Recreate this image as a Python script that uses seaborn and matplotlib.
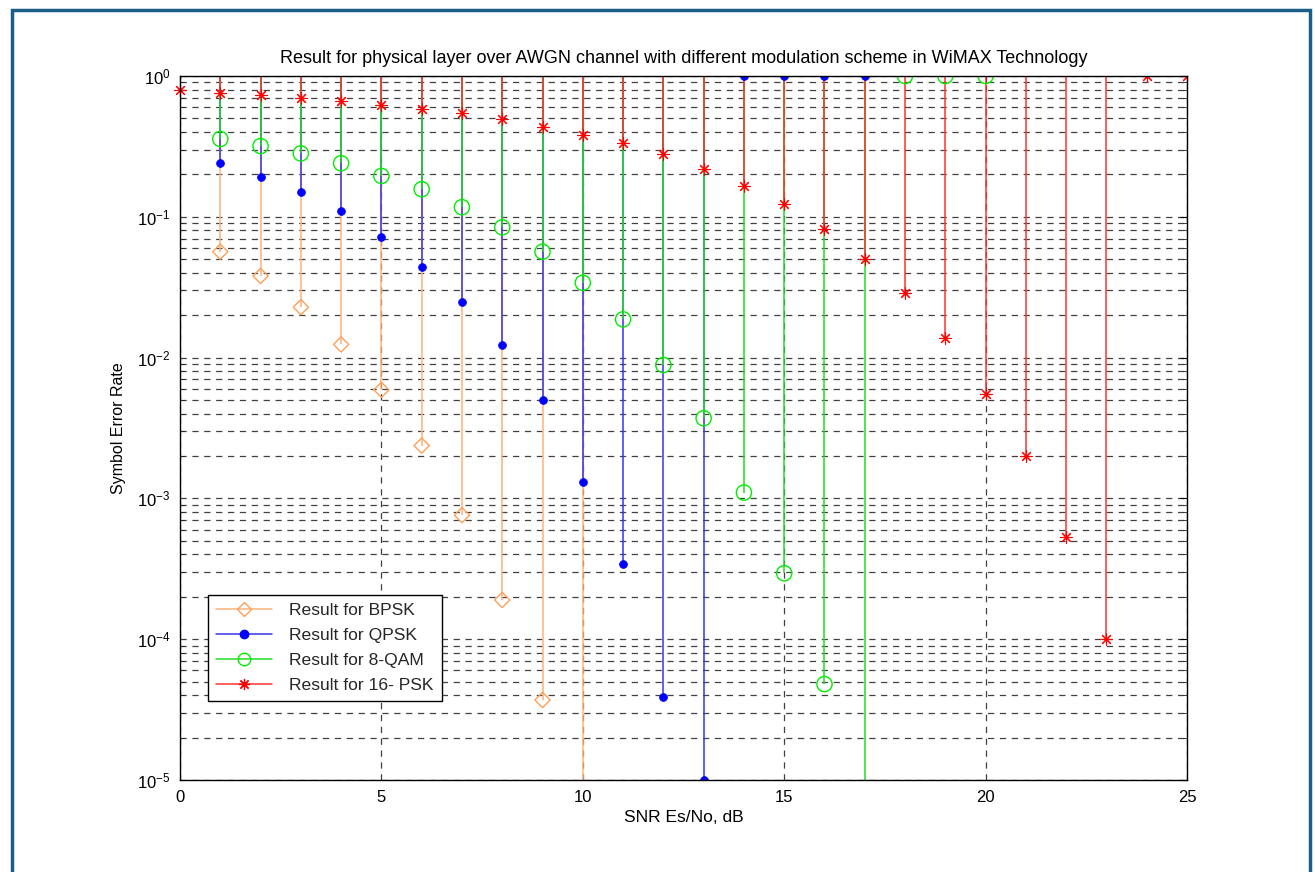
import numpy as np
import pandas as pd
import matplotlib
matplotlib.use("Agg")
import matplotlib.pyplot as plt
from matplotlib.lines import Line2D
from matplotlib.patches import Rectangle
from matplotlib.ticker import LogLocator, FixedLocator, NullFormatter
import seaborn as sns

# ---------------- data ----------------
snr_bpsk = list(range(0, 11))
ser_bpsk = [0.079, 0.0565, 0.038, 0.0228, 0.0124, 0.0059, 0.00237, 7.6e-4, 1.9e-4, 3.7e-5, 0.0]

snr_qpsk = list(range(0, 18))
ser_qpsk = [0.30, 0.242, 0.193, 0.149, 0.11, 0.072, 0.0442, 0.0247, 0.0123, 0.00497,
            0.00131, 3.42e-4, 3.9e-5, 1.0e-5, 1.0, 1.0, 1.0, 1.0]

snr_8qam = list(range(0, 21))
ser_8qam = [0.40, 0.357, 0.318, 0.282, 0.24, 0.195, 0.157, 0.117, 0.0842, 0.0565,
            0.034, 0.0187, 0.00886, 0.00371, 0.0011, 2.94e-4, 4.8e-5, 0.0, 1.0, 1.0, 1.0]

snr_16psk = list(range(0, 26))
ser_16psk = [0.795, 0.753, 0.733, 0.702, 0.668, 0.622, 0.58, 0.543, 0.492, 0.436,
             0.381, 0.333, 0.278, 0.217, 0.166, 0.123, 0.0817, 0.0501, 0.0286, 0.0137,
             0.00548, 0.002, 5.35e-4, 1.0e-4, 1.0, 1.0]

labels = ["Result for BPSK", "Result for QPSK", "Result for 8-QAM", "Result for 16- PSK"]
title = "Result for physical layer over AWGN channel with different modulation scheme in WiMAX Technology"
xlabel = "SNR Es/No, dB"
ylabel = "Symbol Error Rate"
xticks = [0, 5, 10, 15, 20, 25]

# ---------------- style ----------------
sns.set_theme(style="white")
plt.rcParams["font.family"] = ["Liberation Sans", "DejaVu Sans"]
plt.rcParams["mathtext.fontset"] = "custom"
plt.rcParams["mathtext.rm"] = "Liberation Sans"
plt.rcParams["mathtext.it"] = "Liberation Sans"

fig = plt.figure(figsize=(13.15, 8.72), dpi=100)
fig.patch.set_facecolor("white")
ax = fig.add_axes([180 / 1315, (872 - 780) / 872, 1007 / 1315, 704 / 872])
ax.set_facecolor("white")

ymin, ymax = 1e-5, 1.0
ax.set_yscale("log")
ax.set_xlim(0, 25)
ax.set_ylim(ymin, ymax)

series = [
    dict(x=snr_bpsk, y=ser_bpsk, line="#FFB27A", mcol="#FF9F55", marker="D", ms=60, filled=False, lw_m=1.0, edge=False),
    dict(x=snr_qpsk, y=ser_qpsk, line="#3535F0", mcol="#0000FF", marker="o", ms=32, filled=True, lw_m=0.5, edge=False),
    dict(x=snr_8qam, y=ser_8qam, line="#22DD22", mcol="#00EE00", marker="o", ms=120, filled=False, lw_m=1.0, edge=False),
    dict(x=snr_16psk, y=ser_16psk, line="#FF3030", mcol="#FF0000", marker=(8, 2, 0), ms=70, filled=False, lw_m=0.8, edge=True),
]

# grid (behind)
ax.set_axisbelow(True)
ax.yaxis.set_major_locator(LogLocator(base=10, numticks=10))
ax.yaxis.set_minor_locator(LogLocator(base=10, subs=np.arange(2, 10), numticks=20))
ax.yaxis.set_minor_formatter(NullFormatter())
ax.xaxis.set_major_locator(FixedLocator(xticks))
grid_kw = dict(color="#404040", linestyle=(0, (5, 4.5)), linewidth=0.9)
ax.grid(True, which="major", axis="both", **grid_kw)
ax.grid(True, which="minor", axis="y", **grid_kw)

# stems: from each value up to the top baseline
for s in series:
    xs = np.array(s["x"], dtype=float)
    ys = np.array(s["y"], dtype=float)
    lows = np.where(ys > 0, ys, 1e-7)
    ax.vlines(xs, lows, ymax, colors=s["line"], linewidth=1.1, zorder=2)


def draw_markers(df, s, clip=True):
    if s["filled"]:
        sns.scatterplot(data=df, x="snr", y="ser", ax=ax, marker=s["marker"], s=s["ms"],
                        color=s["mcol"], edgecolor=s["mcol"], linewidth=s["lw_m"], zorder=3, legend=False)
    elif isinstance(s["marker"], tuple):
        sns.scatterplot(data=df, x="snr", y="ser", ax=ax, marker=s["marker"], s=s["ms"],
                        color=s["mcol"], linewidth=s["lw_m"], zorder=3, legend=False)
    else:
        sns.scatterplot(data=df, x="snr", y="ser", ax=ax, marker=s["marker"], s=s["ms"],
                        facecolor="none", edgecolor=s["mcol"], linewidth=s["lw_m"], zorder=3, legend=False)
    if not clip:
        ax.collections[-1].set_clip_on(False)


# markers with seaborn (points on the left edge hidden except 16-PSK, as in the reference)
for s in series:
    df = pd.DataFrame({"snr": s["x"], "ser": s["y"]})
    df = df[df["ser"] > 0]
    draw_markers(df[df["snr"] > 0], s, clip=True)
    if s["edge"]:
        draw_markers(df[df["snr"] == 0], s, clip=False)

ax.set_xlim(0, 25)
ax.set_ylim(ymin, ymax)

# axes styling (MATLAB-like box with inward ticks)
for sp in ax.spines.values():
    sp.set_visible(True)
    sp.set_color("black")
    sp.set_linewidth(1.0)
    sp.set_zorder(4)
ax.tick_params(axis="both", which="major", direction="in", length=5, width=0.8,
               top=True, right=True, labelsize=12, colors="black", pad=7)
ax.tick_params(axis="y", which="minor", direction="in", length=3, width=0.6, left=True, right=True)

ax.set_title(title, fontsize=13, pad=9, color="black")
ax.set_xlabel(xlabel, fontsize=12.5, labelpad=4, color="black")
ax.set_ylabel(ylabel, fontsize=11.5, labelpad=8, color="black")

# legend
handles = [
    Line2D([0], [0], color="#FFB27A", lw=1.1, marker="D", markersize=7, markerfacecolor="none",
           markeredgecolor="#FF9F55"),
    Line2D([0], [0], color="#3535F0", lw=1.1, marker="o", markersize=6, markerfacecolor="#0000FF",
           markeredgecolor="#0000FF"),
    Line2D([0], [0], color="#22DD22", lw=1.1, marker="o", markersize=9, markerfacecolor="none",
           markeredgecolor="#00EE00"),
    Line2D([0], [0], color="#FF3030", lw=1.1, marker=(8, 2, 0), markersize=8, markeredgecolor="#FF0000",
           markeredgewidth=0.9),
]
leg = ax.legend(handles, labels, loc="upper left", bbox_to_anchor=((208 - 180) / 1007, (780 - 595) / 704),
                borderaxespad=0, fontsize=12.6, handlelength=3.2, handletextpad=1.0, labelspacing=0.55,
                frameon=True, fancybox=False, framealpha=1, edgecolor="black", borderpad=0.45)
leg.get_frame().set_linewidth(1.0)
leg.set_zorder(5)

# outer page frame
fig.patches.append(Rectangle((12 / 1315, -0.05), (1310 - 12) / 1315, (872 - 10) / 872 + 0.05,
                             transform=fig.transFigure, fill=False, edgecolor="#1b5e87",
                             linewidth=2.5, clip_on=False))

fig.savefig("out.png", dpi=100, facecolor="white")
